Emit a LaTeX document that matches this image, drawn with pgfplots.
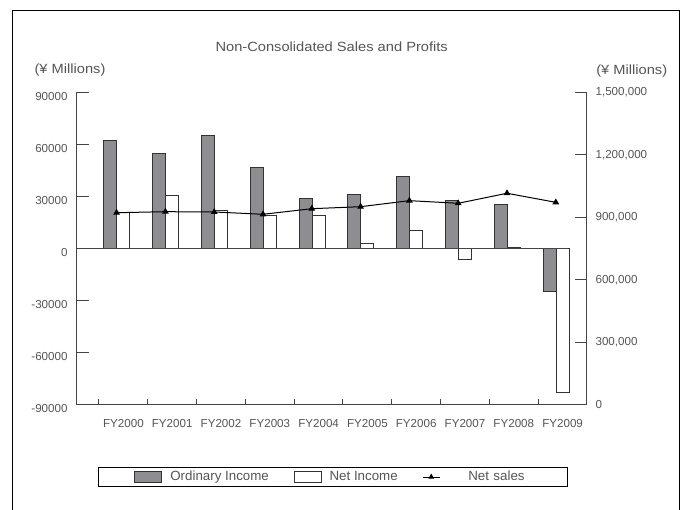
\documentclass[border=0pt]{standalone}
\usepackage{fontspec}
\setmainfont{Liberation Sans}
\newfontfamily\widefont{Liberation Sans}[FakeStretch=1.1]
\usepackage{pgfplots}
\pgfplotsset{compat=1.18}
\definecolor{txt}{HTML}{555555}
\definecolor{axc}{HTML}{444444}
\definecolor{barfill}{HTML}{8E8E92}
\definecolor{baredge}{HTML}{333333}
\pgfplotsset{
  common/.style={
    at={(57.375pt,-303.375pt)}, anchor=south west,
    scale only axis, width=382.875pt, height=234pt,
    xmin=-0.961, xmax=9.5,
    axis line style={draw=axc, line width=0.75pt},
    tick style={draw=axc, line width=0.75pt},
    tick label style={text=txt, font=\fontsize{8.7}{10}\selectfont},
    /pgf/number format/assume math mode=true,
    /pgf/number format/fixed,
    scaled ticks=false,
    major tick length=9pt,
    tick align=inside,
  }
}
\begin{document}
\begin{tikzpicture}[x=0.75pt,y=-0.75pt]
\useasboundingbox (0,0) rectangle (686,510);
\draw[black,line width=0.75pt] (12.5,512) -- (12.5,10.7) -- (679.3,10.7) -- (679.3,512);
\node[anchor=base, inner sep=0pt, text=txt, font=\widefont\fontsize{10}{12}\selectfont] at (331.7,51.7) {Non-Consolidated Sales and Profits};
\node[anchor=base west, inner sep=0pt, text=txt, font=\widefont\fontsize{10}{12}\selectfont] at (34.3,74) {(¥ Millions)};
\node[anchor=base west, inner sep=0pt, text=txt, font=\widefont\fontsize{10}{12}\selectfont] at (596,75) {(¥ Millions)};

\begin{axis}[common,
  ymin=-90000, ymax=90000,
  axis y line*=left, axis x line*=middle,
  x axis line style={draw=none},
  xtick=\empty, minor xtick={-0.5,0.5,...,8.5}, minor tick length=6pt,
  ytick={-90000,-60000,...,90000},
  y tick label style={/pgf/number format/1000 sep={}, xshift=-3.2pt, yshift=-3pt},
]
\addplot[ybar, bar width=0.266, bar shift=-0.266, fill=barfill, draw=baredge, line width=0.75pt]
  coordinates {(0,62400) (1,54900) (2,65300) (3,46600) (4,28700) (5,31400) (6,41700) (7,27800) (8,25100) (9,-24900)};
\addplot[ybar, bar width=0.266, bar shift=0, fill=white, draw=baredge, line width=0.75pt]
  coordinates {(0,20700) (1,30500) (2,22200) (3,19200) (4,19300) (5,2800) (6,10500) (7,-6200) (8,300) (9,-83200)};
\draw[axc, line width=0.75pt] (axis cs:-0.961,0) -- (axis cs:9.12,0);
\end{axis}

\begin{axis}[common,
  ymin=0, ymax=1500000,
  axis y line*=right, axis x line*=bottom,
  xtick={0,1,...,9},
  xticklabels={FY2000,FY2001,FY2002,FY2003,FY2004,FY2005,FY2006,FY2007,FY2008,FY2009},
  major x tick style={draw=none},
  minor xtick={-0.5,0.5,...,8.5}, minor tick length=4.5pt,
  ytick={0,300000,...,1500000},
  y tick label style={xshift=2.9pt, /pgf/number format/1000 sep={,}},
  x tick label style={yshift=-8pt},
  legend style={at={(0.5034,-0.2324)}, anchor=center, legend columns=3,
    draw=black, line width=0.75pt, fill=white,
    font=\fontsize{10}{12}\selectfont, text=txt,
    minimum width=351.75pt, minimum height=14.25pt, inner sep=0pt,
    nodes={minimum width=0pt, minimum height=0pt, inner ysep=0.3em, inner xsep=6pt},
    /tikz/every even column/.append style={column sep=12.5pt}},
]
\addlegendimage{legend image code/.code={\draw[fill=barfill,draw=baredge,line width=0.75pt] (0pt,-4pt) rectangle (20.25pt,4pt);}}
\addlegendentry{Ordinary Income}
\addlegendimage{legend image code/.code={\draw[fill=white,draw=baredge,line width=0.75pt] (0pt,-4pt) rectangle (20.25pt,4pt);}}
\addlegendentry{Net Income}
\addplot[black, line width=0.75pt, mark=triangle*, mark size=2.2pt,
  legend image code/.code={\draw[black,line width=0.75pt,mark=triangle*,mark size=1.8pt,mark repeat=2,mark phase=2] plot coordinates {(0pt,0pt) (6.25pt,0pt) (12.5pt,0pt)};}]
  coordinates {(-0.139,922000) (0.861,927000) (1.861,925500) (2.861,914500) (3.861,941400) (4.861,951000) (5.861,980000) (6.861,967400) (7.861,1015500) (8.861,972000)};
\addlegendentry[text width=57.4pt, align=right]{Net sales}
\end{axis}
\end{tikzpicture}
\end{document}
